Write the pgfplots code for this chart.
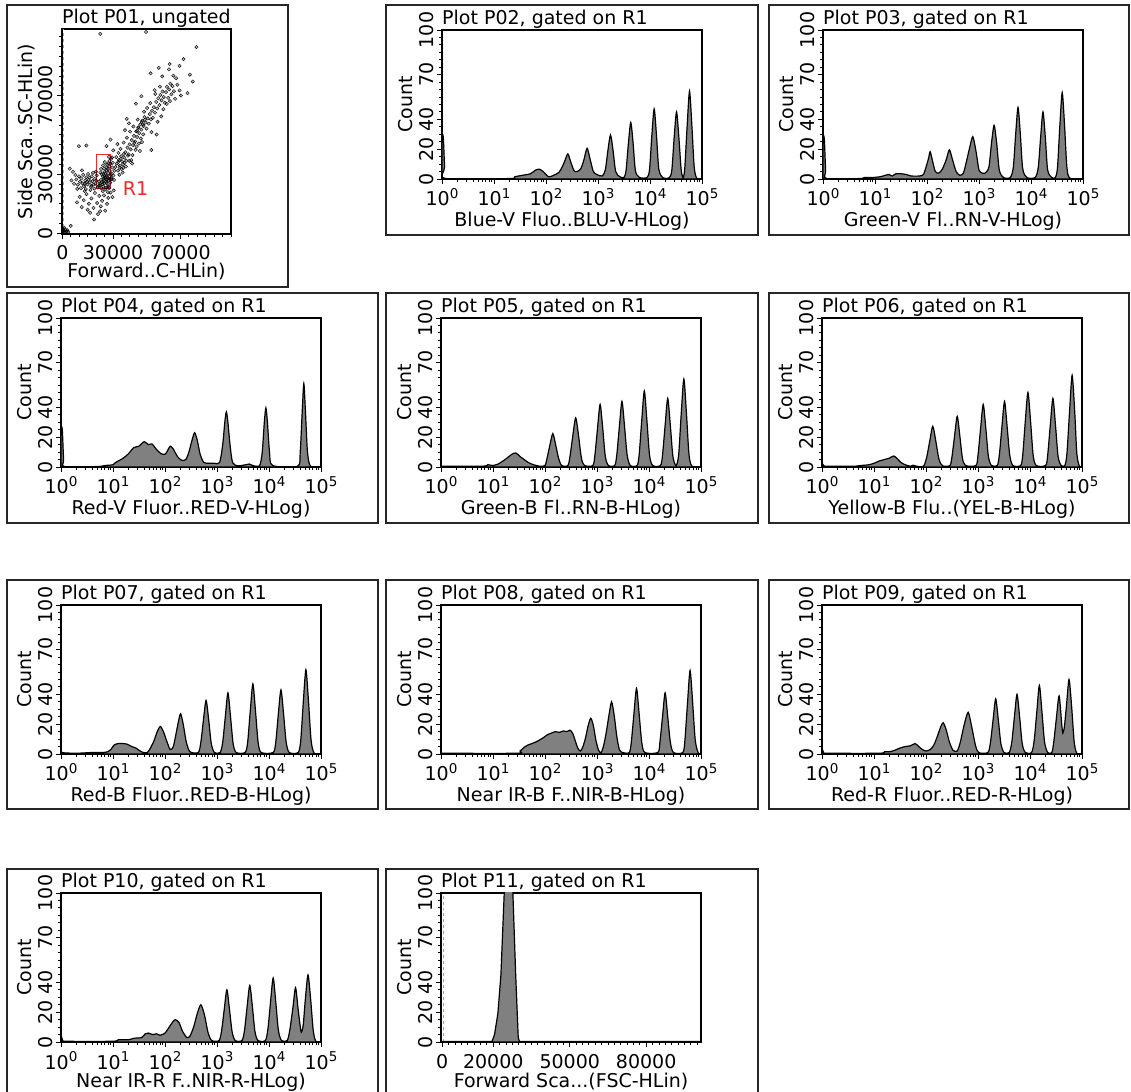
\documentclass[border=0pt]{standalone}
\usepackage{pgfplots}
\pgfplotsset{compat=1.18}
\usepackage{fontspec}
\setmainfont{DejaVu Sans}
\newcommand\fs{\fontsize{19bp}{22bp}\selectfont}
\newcommand\tp[1]{10\raisebox{7.5bp}{\fontsize{13.5bp}{14bp}\selectfont #1}}
\definecolor{hg}{RGB}{128,128,128}
\definecolor{gatered}{RGB}{240,40,40}

\pgfplotsset{
  panel/.style={
    scale only axis, width=260bp, height=149bp,
    axis line style={line width=1.2bp, black},
    every tick/.style={black, line width=0.9bp},
    tick align=outside, tick pos=left,
    major tick length=5bp, minor tick length=3bp,
    tick label style={font=\fs},
    /pgf/number format/assume math mode=true,
    xticklabel style={anchor=base, inner sep=0pt, yshift=-19bp},
    yticklabel style={xshift=-4bp, rotate=90, anchor=base, inner sep=0pt},
    every axis x label/.style={at={(axis description cs:0.5,0)}, anchor=base, yshift=-48bp, font=\fs},
    every axis y label/.style={at={(axis description cs:0,0.5)}, xshift=-30bp, rotate=90, anchor=base, font=\fs},
    every axis title/.style={at={(axis description cs:0,1)}, anchor=base west, yshift=5bp, inner sep=0pt, font=\fs},
  },
  hist/.style={panel,
    xmin=0, xmax=5, ymin=0, ymax=100,
    xtick={0,1,2,3,4,5},
    xticklabels={\tp{0},\tp{1},\tp{2},\tp{3},\tp{4},\tp{5}},
    xticklabel style={yshift=-3bp},
    minor xtick={0.301,0.477,0.602,0.699,0.778,0.845,0.903,0.954,
      1.301,1.477,1.602,1.699,1.778,1.845,1.903,1.954,
      2.301,2.477,2.602,2.699,2.778,2.845,2.903,2.954,
      3.301,3.477,3.602,3.699,3.778,3.845,3.903,3.954,
      4.301,4.477,4.602,4.699,4.778,4.845,4.903,4.954},
    ytick={0,20,40,70,100}, yticklabels={0,20,40,70,100}, minor ytick={5,10,...,95},
    ylabel={Count},
  },
  hp/.style={fill=hg, draw=black, line width=1.2bp, smooth, tension=0.45},
  lowrow/.style={every axis x label/.style={at={(axis description cs:0.5,0)}, anchor=base, yshift=-45bp, font=\fs}},
}

\begin{document}
\begin{tikzpicture}[x=1bp,y=1bp]
\useasboundingbox (0,0) rectangle (1131,1092);

% ---------------- P01 scatter ----------------
\begin{axis}[panel, at={(62bp,858bp)}, anchor=south west, width=169bp, height=205bp,
  xmin=-0.3, xmax=100, ymin=-0.5, ymax=104,
  xtick={0,30,70}, xticklabels={0,30000,70000},
  ytick={0,30,70}, yticklabels={0,30000,70000},
  minor xtick={5,10,...,100}, minor ytick={5,10,...,100},
  xticklabel style={yshift=-1.5bp},
  every axis x label/.style={at={(axis description cs:0.5,0)}, anchor=base, yshift=-44bp, font=\fs},
  xlabel={Forward..C-HLin)}, ylabel={Side Sca..SC-HLin)},
  title={Plot P01, ungated}]
\addplot[gatered!60, dashed, line width=0.9bp] coordinates {(0.3,0)(0.3,104)};
\addplot[only marks, mark=*, mark size=1.7bp, mark options={draw=none, fill=black, fill opacity=0.28}] coordinates {
(22.1,24.3)(23.4,25.8)(24.6,26.9)(25.2,28.4)(26.3,29.1)(27.1,30.5)(24.9,31.2)(26.8,32.7)(27.9,33.9)(28.4,35.2)
(25.7,27.3)(23.9,28.8)(22.8,27.1)(26.1,25.4)(27.5,26.8)(28.8,28.1)(29.3,30.2)(24.2,23.7)(25.9,23.1)(27.3,24.2)
(28.1,31.6)(29.6,33.4)(26.5,34.8)(25.4,30.3)(23.2,29.9)(21.7,26.2)(22.5,30.8)(24.7,32.9)(27.8,36.7)(28.9,37.9)
(26.2,31.9)(24.4,27.6)(25.8,26.1)(27.0,27.9)(23.6,24.9)(26.9,23.6)(28.3,25.7)(29.1,27.4)(30.2,29.3)(30.8,31.7)
(29.8,35.8)(27.6,38.8)(25.1,36.1)(24.0,34.5)(22.9,32.6)(23.1,22.8)(25.5,22.2)(27.7,22.9)(26.6,28.6)(28.6,29.7)
(25.0,29.0)(24.3,30.1)(26.0,33.4)(27.2,35.6)(29.4,38.6)(21.3,23.9)(22.4,25.2)(24.8,25.3)(26.4,27.2)(28.0,27.6)
(5.3,26.8)(6.9,25.1)(8.2,27.3)(9.1,24.6)(10.4,26.2)(11.2,27.8)(11.9,25.3)(12.7,23.9)(13.5,26.7)(14.1,28.4)
(14.8,24.8)(15.6,27.1)(16.2,25.9)(16.9,23.5)(17.4,28.9)(17.8,26.4)(18.5,24.7)(19.1,27.6)(19.6,25.2)(20.3,29.4)
(20.8,23.3)(12.3,29.6)(13.8,22.4)(15.2,30.1)(16.6,21.9)(18.1,30.7)(9.8,28.9)(7.6,29.6)(10.9,22.8)(14.5,26.0)
(16.0,28.2)(18.9,22.6)(19.9,31.3)(13.1,25.0)(17.2,24.1)(8.7,22.5)(6.2,31.2)(4.3,32.8)(11.6,31.9)(20.1,26.7)
(10.2,18.4)(12.6,16.7)(14.3,19.8)(15.7,14.9)(17.1,17.6)(18.4,12.8)(19.2,20.4)(20.6,15.3)(21.8,18.9)(22.7,13.6)
(23.5,16.4)(24.6,19.2)(25.3,11.4)(26.4,14.8)(27.2,17.9)(28.5,20.6)(16.4,10.3)(13.2,21.4)(21.1,9.6)(18.8,6.9)
(11.4,13.2)(23.9,21.3)(26.9,20.8)(29.7,18.3)(30.4,21.7)(14.9,11.9)(22.3,11.1)(8.6,15.6)(4.9,3.6)
(30.6,27.1)(31.4,33.6)(32.2,35.4)(32.9,31.8)(33.5,37.2)(34.1,34.3)(34.8,39.1)(35.4,36.5)(36.1,33.2)(36.7,38.4)
(37.3,41.2)(37.9,36.9)(38.6,43.5)(39.2,40.1)(39.8,45.2)(40.5,42.6)(41.1,47.3)(41.8,44.8)(42.4,49.5)(43.1,46.7)
(43.7,51.8)(44.3,48.9)(44.9,53.6)(45.6,50.9)(46.2,55.4)(46.8,52.7)(47.4,57.2)(48.1,54.5)(48.7,59.1)(49.3,56.3)
(49.9,53.2)(50.6,58.4)(51.2,55.7)(51.8,60.6)(52.5,57.9)(53.1,62.3)(33.8,29.7)(35.7,30.8)(37.6,33.9)(39.6,36.8)
(41.5,39.7)(43.4,42.4)(45.3,45.6)(34.4,42.9)(36.3,46.1)(38.2,48.6)(40.1,51.7)(42.1,54.3)(44.6,57.8)(31.9,38.7)
(33.2,40.8)(35.1,32.6)(36.9,35.7)(38.9,39.4)(40.8,37.2)(42.7,45.9)(44.0,44.1)(46.5,48.2)(47.9,50.3)(48.4,61.8)
(50.2,63.7)(32.6,45.3)(30.1,42.1)(37.1,52.4)(39.4,55.9)(41.3,35.4)(45.9,41.8)(52.8,51.4)(47.2,46.3)
(33.1,36.2)(34.6,37.8)(35.9,35.1)(33.9,33.4)(36.4,40.3)(45.1,53.9)(46.9,56.6)(47.8,55.2)(44.2,52.1)(48.9,57.7)
(53.6,58.7)(54.2,64.1)(54.9,61.3)(55.6,66.8)(56.2,63.5)(56.9,68.7)(57.5,65.2)(58.1,70.4)(58.8,67.6)(59.4,72.1)
(60.1,69.3)(60.7,66.4)(61.4,71.8)(62.0,74.5)(62.7,68.9)(63.3,73.2)(64.0,76.1)(64.6,70.7)(65.3,74.9)(66.1,72.3)
(55.1,70.9)(57.8,74.6)(59.9,63.1)(61.9,65.8)(63.8,67.2)(52.1,66.2)(54.7,72.8)(66.8,68.4)(68.2,75.6)(67.4,78.9)
(69.5,72.7)(70.3,70.1)(65.8,80.2)(58.6,59.4)(56.4,56.7)
(22.4,101.5)(49.6,102.5)(79.5,94.8)(71.8,88.6)(69.4,85.2)(63.2,83.4)(75.6,80.7)(59.2,79.8)(74.2,71.3)(52.3,81.4)
(46.8,69.7)(38.1,58.2)(28.5,47.6)(26.1,44.3)(9.7,44.2)(14.2,44.6)(43.6,65.9)(57.1,84.2)(63.6,86.1)(77.3,77.2)
(52.7,42.3)(55.9,50.2)
(0.4,0.6)(0.9,1.2)(1.3,0.4)(1.8,1.7)(2.4,0.9)(0.6,2.1)(1.1,2.6)(2.9,1.4)(0.2,1.5)(1.6,0.2)(3.4,0.6)
};
\addplot[gatered, line width=0.9bp] coordinates {(20.2,22.5)(28.7,22.5)(28.7,40)(20.2,40)(20.2,22.5)};
\node[text=gatered, font=\fs] at (axis cs:43.4,22.5) {R1};
\end{axis}

% ---------------- P02 ----------------
\begin{axis}[hist, at={(442bp,913bp)}, anchor=south west,
  title={Plot P02, gated on R1}, xlabel={Blue-V Fluo..BLU-V-HLog)}]
\addplot[hp] coordinates {(0,30)(0.025,28)(0.05,8)(0.07,0.3)(1.3,0.3)(1.4,1.5)(1.55,2.5)(1.7,3.5)(1.8,6)(1.88,6.5)(1.96,4.5)(2.05,1.5)(2.15,2.5)(2.25,4.5)(2.31,8)(2.36,12)(2.42,16.8)(2.48,11)(2.54,5.5)(2.6,5)(2.67,7)(2.73,13)(2.79,20.6)(2.85,13)(2.91,5)(2.98,3)(3.08,2)(3.14,6)(3.19,19)(3.24,29.5)(3.29,19)(3.34,5)(3.42,1.5)(3.5,1)(3.54,6)(3.585,24)(3.63,38)(3.675,24)(3.72,5.5)(3.8,1)(3.94,1)(3.99,6)(4.035,29)(4.08,47)(4.125,29)(4.17,6.5)(4.25,0.8)(4.37,0.8)(4.42,6)(4.465,28)(4.51,45)(4.555,28)(4.6,6)(4.64,1)(4.67,8)(4.715,36)(4.76,59)(4.805,36)(4.85,8)(4.9,0.5)(5,0.3)} \closedcycle;
\end{axis}

% ---------------- P03 ----------------
\begin{axis}[hist, at={(823bp,913bp)}, anchor=south west,
  title={Plot P03, gated on R1}, xlabel={Green-V Fl..RN-V-HLog)}]
\addplot[hp] coordinates {(0,29.5)(0.025,27)(0.05,6)(0.07,0.3)(0.7,0.3)(0.8,1)(0.95,1)(1.1,1.5)(1.2,2.5)(1.27,3)(1.33,2)(1.4,3.5)(1.5,3.5)(1.6,3)(1.7,2)(1.85,2)(1.93,3)(1.99,9)(2.03,14)(2.06,18.3)(2.1,13)(2.16,5)(2.23,4)(2.3,7)(2.37,13)(2.43,19.5)(2.49,13)(2.56,5)(2.63,2.5)(2.7,4)(2.76,12)(2.82,21)(2.88,28.4)(2.94,19)(3.0,6)(3.06,4)(3.12,4)(3.19,8)(3.24,24)(3.29,36)(3.34,24)(3.39,6)(3.47,1)(3.6,1)(3.66,8)(3.705,30)(3.75,48)(3.795,30)(3.84,7)(3.92,1)(4.08,1)(4.14,8)(4.185,28)(4.23,45)(4.275,28)(4.32,6)(4.4,1)(4.47,1)(4.51,8)(4.555,36)(4.6,58)(4.645,36)(4.69,8)(4.75,0.5)(5,0.3)} \closedcycle;
\end{axis}

% ---------------- P04 ----------------
\begin{axis}[hist, at={(61bp,625bp)}, anchor=south west,
  title={Plot P04, gated on R1}, xlabel={Red-V Fluor..RED-V-HLog)}]
\addplot[hp] coordinates {(0,27.5)(0.025,25)(0.05,5)(0.07,0.3)(0.7,0.3)(0.85,1)(1.0,1.5)(1.05,3)(1.2,6)(1.3,9)(1.4,13)(1.5,14)(1.6,17)(1.68,15)(1.75,15.5)(1.83,12)(1.92,9)(2.0,8.5)(2.05,11)(2.1,14)(2.16,12)(2.24,7)(2.32,4.5)(2.4,5)(2.46,10)(2.52,18)(2.57,23)(2.62,18)(2.68,8)(2.75,3)(2.85,2.5)(2.95,2.5)(3.05,3)(3.11,15)(3.15,30)(3.18,37)(3.21,30)(3.25,15)(3.3,3)(3.4,0.8)(3.55,1.5)(3.62,2)(3.7,0.8)(3.82,1)(3.87,10)(3.91,30)(3.94,39.6)(3.97,30)(4.01,10)(4.07,1)(4.55,0.5)(4.6,10)(4.64,38)(4.67,56)(4.70,38)(4.74,10)(4.8,0.5)(5,0.3)} \closedcycle;
\end{axis}

% ---------------- P05 ----------------
\begin{axis}[hist, at={(441bp,625bp)}, anchor=south west,
  title={Plot P05, gated on R1}, xlabel={Green-B Fl..RN-B-HLog)}]
\addplot[hp] coordinates {(0,1)(0.05,0.5)(0.8,0.5)(0.9,1.5)(1.0,1)(1.1,2)(1.17,3.5)(1.27,6)(1.36,8.5)(1.44,9.4)(1.52,7)(1.6,5)(1.68,3)(1.78,1.5)(1.9,0.5)(2.0,1)(2.04,6)(2.09,14)(2.15,22.4)(2.21,14)(2.26,6)(2.32,1)(2.44,1)(2.48,7)(2.535,21)(2.59,33)(2.645,21)(2.7,6)(2.76,1)(2.92,1)(2.96,8)(3.01,26)(3.06,42)(3.11,26)(3.16,7)(3.22,1)(3.34,1)(3.38,8)(3.43,27)(3.48,44)(3.53,27)(3.58,8)(3.64,1)(3.77,1)(3.81,8)(3.86,31)(3.91,51)(3.96,31)(4.01,8)(4.07,1)(4.22,1)(4.26,8)(4.31,28)(4.36,46)(4.41,28)(4.46,7)(4.52,1)(4.57,8)(4.62,36)(4.67,59)(4.72,36)(4.77,8)(4.83,0.5)(5,0.3)} \closedcycle;
\end{axis}

% ---------------- P06 ----------------
\begin{axis}[hist, at={(822bp,625bp)}, anchor=south west,
  title={Plot P06, gated on R1}, xlabel={Yellow-B Flu..(YEL-B-HLog)}]
\addplot[hp] coordinates {(0,3)(0.03,1)(0.1,0.5)(0.6,0.5)(0.75,1)(0.9,1.5)(1.0,2.5)(1.1,4)(1.2,5)(1.3,6)(1.38,7.4)(1.45,5.5)(1.52,3)(1.6,1.5)(1.7,0.5)(1.75,1.2)(1.82,0.5)(1.95,0.5)(2.01,6)(2.07,17)(2.13,27.3)(2.19,17)(2.25,5)(2.32,0.8)(2.46,1)(2.5,7)(2.55,21)(2.6,34)(2.65,21)(2.7,6)(2.76,1)(2.96,1)(3.0,8)(3.05,26)(3.1,42)(3.15,26)(3.2,7)(3.26,1)(3.37,1)(3.41,8)(3.46,27)(3.51,44)(3.56,27)(3.61,8)(3.67,1)(3.82,1)(3.86,8)(3.91,31)(3.96,50)(4.01,31)(4.06,8)(4.12,1)(4.3,1)(4.34,8)(4.39,28)(4.44,46)(4.49,28)(4.54,7)(4.6,1)(4.67,1)(4.71,9)(4.76,37)(4.81,61.5)(4.86,37)(4.9,9)(4.95,0.5)(5,0.3)} \closedcycle;
\end{axis}

% ---------------- P07 ----------------
\begin{axis}[hist, at={(61bp,338bp)}, anchor=south west,
  title={Plot P07, gated on R1}, xlabel={Red-B Fluor..RED-B-HLog)}]
\addplot[hp] coordinates {(0,1.5)(0.05,0.8)(0.3,0.5)(0.6,1)(0.8,1)(0.9,1.5)(0.96,3)(1.02,6)(1.1,7)(1.2,7)(1.28,6.5)(1.36,5)(1.44,4)(1.5,2.5)(1.58,1)(1.66,1)(1.72,4)(1.79,9)(1.85,15)(1.91,18.5)(1.97,15)(2.04,8)(2.1,3)(2.16,5)(2.22,15)(2.26,22)(2.3,27)(2.35,20)(2.41,8)(2.48,1.5)(2.64,1)(2.69,8)(2.74,23)(2.79,36)(2.84,23)(2.89,7)(2.95,1)(3.06,1)(3.11,8)(3.16,25)(3.21,41)(3.26,25)(3.31,7)(3.37,1)(3.54,1)(3.59,8)(3.64,29)(3.69,47)(3.74,29)(3.79,8)(3.85,1)(4.08,1)(4.13,8)(4.18,27)(4.23,43)(4.28,27)(4.33,8)(4.39,1)(4.56,1)(4.61,9)(4.66,35)(4.71,56.5)(4.76,35)(4.81,9)(4.87,0.5)(5,0.3)} \closedcycle;
\end{axis}

% ---------------- P08 ----------------
\begin{axis}[hist, at={(441bp,338bp)}, anchor=south west,
  title={Plot P08, gated on R1}, xlabel={Near IR-B F..NIR-B-HLog)}]
\addplot[hp] coordinates {(0,0.5)(1.45,0.5)(1.52,2)(1.6,4.5)(1.67,6)(1.75,7)(1.82,8)(1.9,9.5)(1.97,11)(2.05,13)(2.12,14)(2.2,15)(2.28,14.5)(2.35,15.5)(2.42,15)(2.48,16)(2.53,14)(2.58,9)(2.63,4)(2.68,2)(2.73,5)(2.78,11)(2.83,19)(2.88,24)(2.93,19)(2.98,9)(3.03,2.5)(3.08,1)(3.13,6)(3.18,15)(3.23,26)(3.28,35)(3.33,26)(3.38,12)(3.43,3)(3.49,1)(3.62,1)(3.66,8)(3.71,27)(3.76,44)(3.81,27)(3.86,8)(3.92,1)(4.17,1)(4.21,8)(4.26,25)(4.31,41)(4.36,25)(4.41,8)(4.47,1)(4.65,1)(4.69,9)(4.74,34)(4.79,56)(4.84,34)(4.89,9)(4.95,0.5)(5,0.3)} \closedcycle;
\end{axis}

% ---------------- P09 ----------------
\begin{axis}[hist, at={(822bp,338bp)}, anchor=south west,
  title={Plot P09, gated on R1}, xlabel={Red-R Fluor..RED-R-HLog)}]
\addplot[hp] coordinates {(0,4)(0.03,1)(0.1,0.5)(1.1,0.5)(1.2,1.5)(1.3,1.5)(1.4,2.5)(1.5,4)(1.6,5)(1.7,5.5)(1.79,7)(1.86,5)(1.93,3)(2.0,2)(2.08,3)(2.15,6)(2.22,12)(2.28,18)(2.33,21)(2.39,16)(2.45,8)(2.52,2.5)(2.6,2)(2.66,8)(2.73,19)(2.81,28)(2.88,18)(2.95,6)(3.01,1)(3.19,1)(3.24,8)(3.29,23)(3.34,37)(3.39,23)(3.44,7)(3.5,1)(3.6,1)(3.65,8)(3.7,25)(3.75,40)(3.8,25)(3.85,7)(3.91,1)(4.03,1)(4.08,9)(4.13,28)(4.18,46)(4.23,28)(4.28,8)(4.34,1)(4.42,1)(4.46,9)(4.51,25)(4.56,39)(4.61,20)(4.63,14)(4.66,18)(4.7,32)(4.75,50)(4.8,32)(4.85,8)(4.9,0.5)(5,0.3)} \closedcycle;
\end{axis}

% ---------------- P10 ----------------
\begin{axis}[hist, lowrow, at={(61bp,50bp)}, anchor=south west,
  title={Plot P10, gated on R1}, xlabel={Near IR-R F..NIR-R-HLog)}]
\addplot[hp] coordinates {(0,5)(0.03,1.5)(0.1,0.5)(1.0,0.5)(1.1,1.5)(1.3,1.5)(1.4,2.5)(1.55,3)(1.62,5.5)(1.68,6)(1.76,5)(1.84,5.5)(1.9,4.5)(2.0,6)(2.08,10)(2.15,13.5)(2.2,15)(2.27,13)(2.34,7)(2.42,3)(2.48,4)(2.55,10)(2.62,19)(2.69,25)(2.76,18)(2.83,6)(2.9,1)(3.04,1)(3.09,8)(3.14,22)(3.19,35)(3.24,22)(3.29,7)(3.35,1)(3.48,1)(3.53,8)(3.58,24)(3.63,38)(3.68,24)(3.73,7)(3.79,1)(3.93,1)(3.98,9)(4.03,27)(4.08,43)(4.13,27)(4.18,8)(4.24,1)(4.35,1)(4.4,8)(4.46,23)(4.51,36.5)(4.56,22)(4.61,8)(4.63,7)(4.66,12)(4.7,29)(4.75,45)(4.8,29)(4.85,8)(4.9,0.5)(5,0.3)} \closedcycle;
\end{axis}

% ---------------- P11 ----------------
\begin{axis}[panel, lowrow, at={(441bp,50bp)}, anchor=south west,
  xmin=-0.5, xmax=101.5, ymin=0, ymax=100,
  xtick={0,20,50,80}, xticklabels={0,20000,50000,80000},
  minor xtick={2.5,5,...,100},
  xticklabel style={yshift=-2bp},
  ytick={0,20,40,70,100}, yticklabels={0,20,40,70,100}, minor ytick={5,10,...,95},
  ylabel={Count}, title={Plot P11, gated on R1}, xlabel={Forward Sca...(FSC-HLin)}]
\addplot[gatered!60, dashed, line width=0.9bp] coordinates {(0.3,0)(0.3,100)};
\addplot[fill=hg, draw=black, line width=1.2bp] coordinates {(-0.5,0.3)(19.5,0.3)(20.5,5)(21.8,19)(23.0,45)(24.3,100)(25.5,140)(26.8,135)(27.7,100)(28.8,45)(29.8,3)(30.3,0.3)(101.5,0.3)} \closedcycle;
\end{axis}

% ---------------- panel frames ----------------
\begin{scope}[line width=1.2bp, draw=black!85]
\draw (7,805) rectangle (288,1087);
\draw (386,857) rectangle (758,1087);
\draw (769,857) rectangle (1129,1087);
\draw (7,569) rectangle (378,799);
\draw (386,569) rectangle (758,799);
\draw (769,569) rectangle (1129,799);
\draw (7,283) rectangle (378,512);
\draw (386,283) rectangle (758,512);
\draw (769,283) rectangle (1129,512);
\draw (7,-6) rectangle (378,223);
\draw (386,-6) rectangle (758,223);
\end{scope}
\end{tikzpicture}
\end{document}
